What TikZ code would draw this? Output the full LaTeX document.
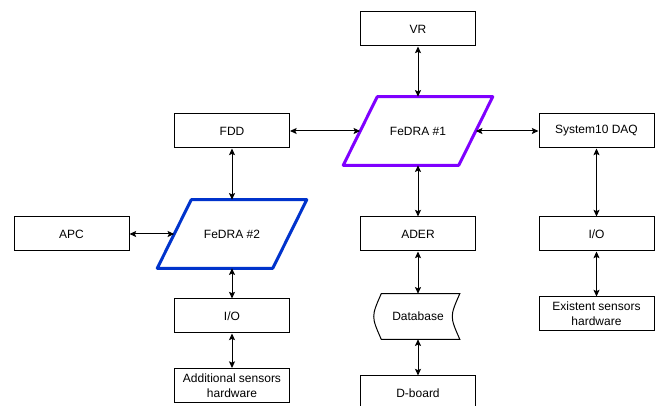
\documentclass[tikz,border=0pt]{standalone}
\usepackage{fontspec}
\setmainfont{Liberation Sans}
\usetikzlibrary{arrows.meta, positioning}
\definecolor{fedraviolet}{RGB}{127,0,255}
\definecolor{fedrablue}{RGB}{0,51,204}

\begin{document}
\begin{tikzpicture}[x=0.75pt, y=-0.75pt, font=\fontsize{9}{11}\selectfont,
  box/.style={draw, line width=0.75pt, minimum width=86.25pt, minimum height=25.5pt, inner sep=0pt, align=center},
  para/.style={minimum width=86.25pt, minimum height=51pt, inner sep=0pt},
  dbase/.style={minimum width=62.25pt, minimum height=33.75pt, inner sep=0pt},
  link/.style={line width=0.75pt, {Stealth[length=5pt,width=4.5pt,inset=1pt]}-{Stealth[length=5pt,width=4.5pt,inset=1pt]}}]
\useasboundingbox[fill=white] (0,0) rectangle (662,406);

\node[box] (vr) at (418,29) {VR};
\node[para] (f1) at (418,131) {FeDRA \#1};
\node[box] (fdd) at (232,131) {FDD};
\node[box] (daq) at (596.5,131) {System10 DAQ};
\node[para] (f2) at (232,234) {FeDRA \#2};
\node[box] (apc) at (71.5,234) {APC};
\node[box] (ader) at (418,234) {ADER};
\node[box] (io2) at (596.5,234) {I/O};
\node[box] (io1) at (232,316) {I/O};
\node[box] (add) at (232,385.5) {Additional sensors\\hardware};
\node[box] (exs) at (596.5,314) {Existent sensors\\hardware};
\node[dbase] (db) at (418,316.5) {Database};
\node[box] (dboard) at (418,393) {D-board};

% FeDRA outlines
\draw[fedraviolet, line width=2.25pt, line join=round] ([xshift=12.75pt]f1.north west) -- ([xshift=12.75pt]f1.north east) -- ([xshift=-12.75pt]f1.south east) -- ([xshift=-12.75pt]f1.south west) -- cycle;
\draw[fedrablue, line width=2.25pt, line join=round] ([xshift=12.75pt]f2.north west) -- ([xshift=12.75pt]f2.north east) -- ([xshift=-12.75pt]f2.south east) -- ([xshift=-12.75pt]f2.south west) -- cycle;
% stored data
\draw[line width=0.75pt] ([xshift=3.75pt]db.north west) -- (db.north east) .. controls ([xshift=-7.5pt]db.east) .. (db.south east) -- ([xshift=3.75pt]db.south west) .. controls ([xshift=-3.75pt]db.west) .. ([xshift=3.75pt]db.north west) -- cycle;

\draw[link] (vr) -- (f1);
\draw[link] (fdd) -- (f1);
\draw[link] (f1) -- (daq);
\draw[link] (f1) -- (ader);
\draw[link] (fdd) -- (f2);
\draw[link] (apc) -- (f2);
\draw[link] (f2) -- (io1);
\draw[link] (io1) -- (add);
\draw[link] (ader) -- (db);
\draw[link] (db) -- (dboard);
\draw[link] (daq) -- (io2);
\draw[link] (io2) -- (exs);
\end{tikzpicture}
\end{document}
